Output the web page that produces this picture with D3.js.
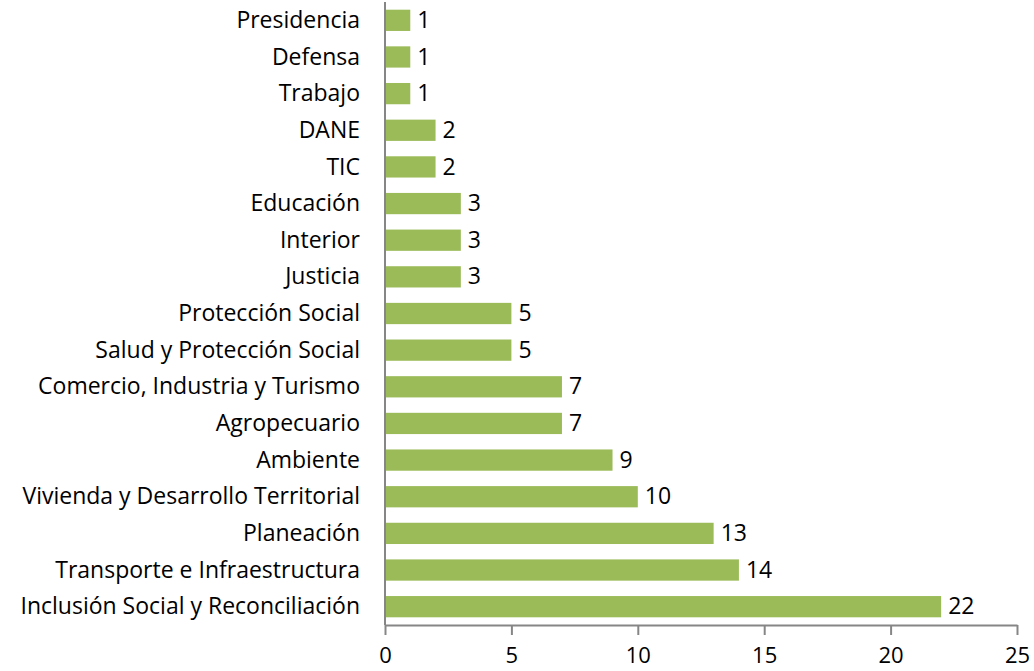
<!DOCTYPE html>
<html>
<head>
<meta charset="utf-8">
<script src="https://cdn.jsdelivr.net/npm/d3@7"></script>
<style>
  body { margin: 0; background: #fff; }
  text { font-family: "Open Sans", "Noto Sans", sans-serif; fill: #000; }
</style>
</head>
<body>
<div id="chart-area"></div>
<script>
// Data
var categories = ["Presidencia", "Defensa", "Trabajo", "DANE", "TIC", "Educación",
    "Interior", "Justicia", "Protección Social", "Salud y Protección Social",
    "Comercio, Industria y Turismo", "Agropecuario", "Ambiente",
    "Vivienda y Desarrollo Territorial", "Planeación",
    "Transporte e Infraestructura", "Inclusión Social y Reconciliación"];
var values = [1, 1, 1, 2, 2, 3, 3, 3, 5, 5, 7, 7, 9, 10, 13, 14, 22];
var xTicks = [0, 5, 10, 15, 20, 25];

var data = categories.map(function(c, i){ return { name: c, value: values[i] }; });

var margin = { left:385, right:17, top:2, bottom:46 };
var width = 1034 - margin.left - margin.right,
    height = 671 - margin.top - margin.bottom;

var svg = d3.select("#chart-area")
    .append("svg")
        .attr("width", 1034)
        .attr("height", 671);

var g = svg.append("g")
        .attr("transform", "translate(" + margin.left + ", " + margin.top + ")");

// X Scale
var x = d3.scaleLinear()
    .domain([0, 25])
    .range([0, width]);

// Y Scale
var y = d3.scaleBand()
    .domain(categories)
    .range([0, height])
    .paddingInner(0.42)
    .paddingOuter(0.21);

// Bars
g.selectAll("rect.bar")
    .data(data)
    .enter()
    .append("rect")
        .attr("class", "bar")
        .attr("x", x(0))
        .attr("y", function(d){ return y(d.name); })
        .attr("width", function(d){ return x(d.value) - x(0); })
        .attr("height", y.bandwidth())
        .attr("fill", "#9bbb59");

// Value labels
g.selectAll("text.val")
    .data(data)
    .enter()
    .append("text")
        .attr("class", "val")
        .attr("x", function(d){ return x(d.value) + 7; })
        .attr("y", function(d){ return y(d.name) + y.bandwidth() / 2; })
        .attr("dy", "0.33em")
        .attr("font-size", "23px")
        .text(function(d){ return d.value; });

// Category labels
g.selectAll("text.cat")
    .data(data)
    .enter()
    .append("text")
        .attr("class", "cat")
        .attr("x", -25)
        .attr("y", function(d){ return y(d.name) + y.bandwidth() / 2; })
        .attr("dy", "0.33em")
        .attr("text-anchor", "end")
        .attr("font-size", "23px")
        .text(function(d){ return d.name; });

// X Axis
var xAxisCall = d3.axisBottom(x)
    .tickValues(xTicks)
    .tickSize(10)
    .tickSizeOuter(0);
var xAxisGroup = g.append("g")
    .attr("class", "x axis")
    .attr("transform", "translate(0," + height + ")")
    .call(xAxisCall);
xAxisGroup.select(".domain").attr("stroke", "#868686").attr("stroke-width", 2);
xAxisGroup.selectAll(".tick line").attr("stroke", "#868686").attr("stroke-width", 2);
xAxisGroup.selectAll(".tick text")
    .attr("y", 38)
    .attr("dy", 0)
    .attr("font-size", "22px")
    .attr("font-family", "\"Open Sans\", sans-serif")
    .attr("fill", "#000");

// Y axis line
g.append("line")
    .attr("x1", 0).attr("x2", 0)
    .attr("y1", 0).attr("y2", height)
    .attr("stroke", "#868686")
    .attr("stroke-width", 2);
</script>
</body>
</html>
